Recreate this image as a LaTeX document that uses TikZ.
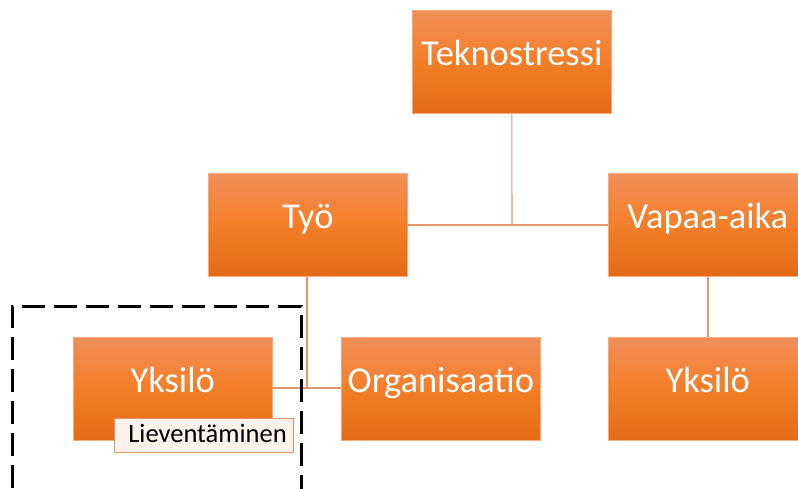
\documentclass[tikz,border=0pt]{standalone}
\usepackage{fontspec}
\setmainfont{Carlito}
\definecolor{otop}{RGB}{241,143,88}
\definecolor{omid}{RGB}{243,126,40}
\definecolor{obot}{RGB}{228,106,22}
\definecolor{oedge}{RGB}{244,170,125}
\definecolor{oline}{RGB}{226,150,105}
\definecolor{lfill}{RGB}{253,242,235}
\begin{document}
\begin{tikzpicture}[x=1pt,y=-1pt,
  obox/.style={rectangle, minimum width=199pt, minimum height=103pt, inner sep=0pt, anchor=north west,
    top color=otop, bottom color=obot, middle color=omid, draw=oedge, line width=0.6pt},
  olabel/.style={anchor=base, text=white, font=\fontsize{36.5}{40}\selectfont, inner sep=0pt},
  conn/.style={draw=oline, line width=1.1pt},
  lbox/.style={rectangle, anchor=north west, minimum width=179pt, minimum height=34pt, inner sep=0pt,
    fill=lfill, draw=oline, line width=1pt}]
\useasboundingbox (0,0) rectangle (798,488);
\clip (0,0) rectangle (798,488);
% boxes
\node[obox] (tek) at (412,10) {};
\node[obox] (tyo) at (208,173) {};
\node[obox] (vap) at (608,173) {};
\node[obox] (yk1) at (73,337) {};
\node[obox] (org) at (341,337) {};
\node[obox] (yk2) at (608,337) {};
% labels
\node[olabel] (tekt) at ([yshift=-55pt]tek.north) {Teknostressi};
\node[olabel] (tyot) at ([yshift=-55pt]tyo.north) {Työ};
\node[olabel] (vapt) at ([yshift=-55pt]vap.north) {Vapaa-aika};
\node[olabel] (yk1t) at ([yshift=-55pt]yk1.north) {Yksilö};
\node[olabel] (orgt) at ([yshift=-55pt]org.north) {Organisaatio};
\node[olabel] (yk2t) at ([yshift=-55pt]yk2.north) {Yksilö};
% connectors
\coordinate (j1) at (512,225);
\coordinate (j2) at (307,388);
\draw[conn] (tek.south) -- (j1);
\draw[conn] (tyo.east |- j1) -- (vap.west |- j1);
\draw[conn] (tyo.south -| j2) -- (j2);
\draw[conn] (yk1.east |- j2) -- (org.west |- j2);
\draw[conn] (vap.south -| 708,0) -- (yk2.north -| 708,0);
% mitigation label
\node[lbox] (lie) at (114,418) {};
\node[anchor=base, inner sep=0pt, font=\fontsize{26.5}{29}\selectfont, text=black] (liet) at (207.5,442) {Lieventäminen};
% dashed frame
\draw[black, line width=3pt, dash pattern=on 23pt off 9pt] (12,520) -- (12,306) -- (301,306) -- (301,520);
\end{tikzpicture}
\end{document}
